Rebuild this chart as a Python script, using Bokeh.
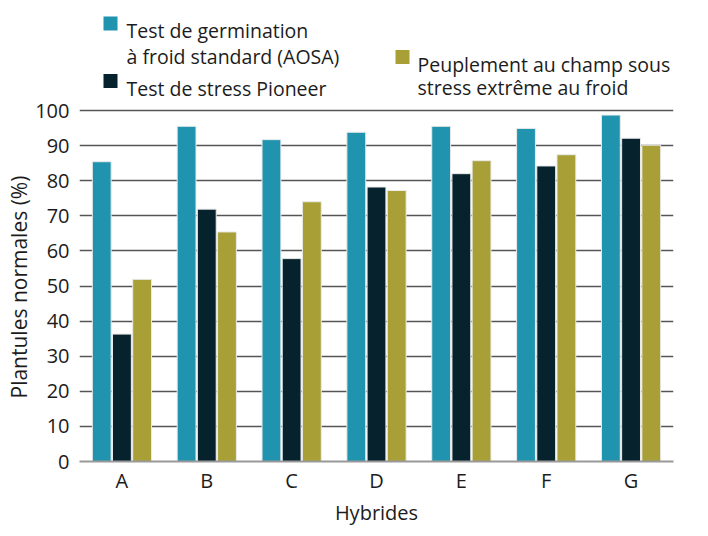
from bokeh.plotting import figure
from bokeh.models import ColumnDataSource, FactorRange, Range1d, FixedTicker, Title, LinearScale
from bokeh.core.properties import value
from bokeh.transform import dodge
from bokeh.embed import file_html
from bokeh.resources import INLINE

hybrides = ["A", "B", "C", "D", "E", "F", "G"]
aosa = [85.4, 95.5, 91.7, 93.8, 95.5, 94.9, 98.7]
pioneer = [36.3, 71.9, 57.8, 78.2, 82.0, 84.2, 92.1]
champ = [51.9, 65.4, 74.0, 77.2, 85.7, 87.4, 90.1]
y_ticks = [0, 10, 20, 30, 40, 50, 60, 70, 80, 90, 100]

series_labels = ["Test de germination\nà froid standard (AOSA)", "Test de stress Pioneer",
                 "Peuplement au champ sous\nstress extrême au froid"]
colors = ["#2093AE", "#06222D", "#A89F36"]

FONT = "Open Sans"
FS = "20px"
TXT = "#1c1c1c"

W, H = 692, 528
LEFT, RIGHT, TOP, BOTTOM = 79, 19, 4, 67
Y0_PX, Y100_PX = H - BOTTOM, 110          # pixel rows of 0 % and 100 %
y_top = 100 * (Y0_PX - TOP) / (Y0_PX - Y100_PX)
PX_PER_CAT = (W - LEFT - RIGHT) / len(hybrides)

src = ColumnDataSource(dict(h=hybrides, aosa=aosa, pioneer=pioneer, champ=champ))

p = figure(x_range=FactorRange(*hybrides, range_padding=0), y_range=Range1d(0, y_top),
           width=W, height=H, output_backend="svg", toolbar_location=None,
           min_border_left=LEFT, min_border_right=RIGHT, min_border_top=TOP,
           min_border_bottom=BOTTOM)
p.outline_line_color = None
# pixel-mapped helper y range for the legend drawn in the free space above the bars
p.extra_y_ranges = {"px": Range1d(H - BOTTOM, TOP)}
p.extra_y_scales = {"px": LinearScale()}

w = 0.222
for col, off, c in zip(["aosa", "pioneer", "champ"], [-0.238, 0.0, 0.238], colors):
    p.vbar(x=dodge("h", off, range=p.x_range), top=col, width=w, source=src,
           fill_color=c, line_color="#eaeaea", line_width=1)

p.xgrid.grid_line_color = None
p.ygrid.grid_line_color = "#555555"
p.ygrid.grid_line_width = 1.5
p.ygrid.ticker = FixedTicker(ticks=y_ticks)
p.yaxis.ticker = FixedTicker(ticks=y_ticks)

for ax in (p.xaxis, p.yaxis):
    ax.major_tick_line_color = None
    ax.minor_tick_line_color = None
    ax.major_tick_out = 0
    ax.minor_tick_out = 0
    ax.major_tick_in = 0
    ax.minor_tick_in = 0
    ax.major_label_text_font = FONT
    ax.major_label_text_font_size = FS
    ax.major_label_text_color = TXT
    ax.axis_label_text_font = FONT
    ax.axis_label_text_font_size = FS
    ax.axis_label_text_font_style = "normal"
    ax.axis_label_text_color = TXT

p.yaxis.axis_line_color = None
p.yaxis.major_label_standoff = 10

p.xaxis.axis_line_color = "#999999"
p.xaxis.axis_line_width = 2
p.xaxis.major_label_standoff = 5
p.xaxis.axis_label = "Hybrides"
p.xaxis.axis_label_standoff = 2

# y-axis title, starting above the frame bottom so it is centred on the 0-100 span
p.add_layout(Title(text="Plantules normales (%)", align="left", offset=Y0_PX - 398,
                   text_font=FONT, text_font_size="21px", text_font_style="normal",
                   text_color=TXT, standoff=0), "left")


def xs(px):
    """canvas pixel column -> synthetic categorical coordinate"""
    return (px - LEFT) / PX_PER_CAT


# legend
LFS = "19.5px"
sq_pos = [(110, 23), (110, 80.5), (402, 56.5)]
txt_pos = [(126, 30), (126, 88), (417, 64)]
line_gaps = [25.5, 0, 22.7]
leg_src = ColumnDataSource(dict(x=[xs(s[0]) for s in sq_pos], y=[s[1] for s in sq_pos], c=colors))
p.rect(x="x", y="y", width=14, height=14, width_units="screen", height_units="screen",
       fill_color="c", line_color=None, source=leg_src, y_range_name="px")
tx, ty, tt = [], [], []
for (x0, y0), gap, lab in zip(txt_pos, line_gaps, series_labels):
    for i, line in enumerate(lab.split("\n")):
        tx.append(xs(x0))
        ty.append(y0 + i * gap)
        tt.append(line)
p.text(x=tx, y=ty, text=tt, text_font=value(FONT), text_font_size=LFS,
       text_color=TXT, text_baseline="alphabetic", text_align="left",
       y_range_name="px")

open("out.html", "w").write(file_html(p, INLINE))
